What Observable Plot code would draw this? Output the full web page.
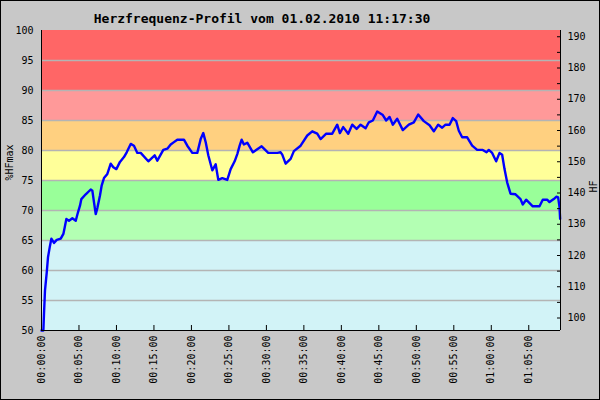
<!DOCTYPE html>
<html><head><meta charset="utf-8">
<script src="https://cdn.jsdelivr.net/npm/d3@7"></script>
<script src="https://cdn.jsdelivr.net/npm/@observablehq/plot@0.6"></script>
<style>
html,body{margin:0;padding:0;background:#c8c8c8;}
#chart svg{display:block;}
</style>
</head><body><div id="chart"></div>
<script>
const chartTitle = "Herzfrequenz-Profil vom 01.02.2010 11:17:30";
const leftLabel = "%HFmax";
const rightLabel = "HF";

// elapsed time (seconds) and heart rate as % of HFmax
const timeSec = [0,15,20,28,42,52,66,79,100,122,154,175,186,199,220,247,274,292,308,319,354,394,407,420,434,447,468,482,500,527,554,575,599,628,660,682,714,740,767,794,855,906,927,975,1007,1034,1060,1087,1140,1167,1207,1247,1274,1295,1314,1335,1367,1394,1415,1447,1487,1514,1546,1567,1586,1602,1620,1647,1692,1727,1762,1815,1887,1914,1927,1954,1994,2020,2074,2127,2167,2207,2234,2279,2327,2367,2388,2415,2455,2487,2522,2554,2594,2620,2652,2687,2732,2759,2786,2812,2847,2892,2940,2980,3015,3060,3106,3140,3175,3207,3234,3266,3292,3319,3340,3367,3407,3447,3487,3532,3562,3580,3607,3639,3666,3687,3706,3727,3754,3794,3834,3852,3879,3932,3986,4012,4047,4066,4100,4122,4135,4146,4151];
const pctHFmax = [50,50,52.8,56.7,59.7,62.2,63.9,65.3,64.6,65.1,65.3,66.1,67.2,68.6,68.3,68.7,68.3,69.7,70.8,71.9,72.7,73.5,73.3,71.4,69.4,70.4,72.5,74.2,75.4,76.1,77.8,77.2,76.9,78.1,78.9,79.7,81.1,80.8,79.6,79.6,78.2,79.2,78.3,80.1,80.3,81.0,81.4,81.8,81.8,80.8,79.6,79.6,81.9,82.9,81.4,79.2,76.7,77.7,75.1,75.4,75.1,76.9,78.2,79.4,80.8,81.8,81.0,81.3,79.7,80.2,80.7,79.6,79.6,79.7,79.3,77.8,78.6,79.9,80.8,82.5,83.2,82.8,81.9,82.8,82.8,84.3,82.9,83.9,82.8,84.3,83.6,84.3,83.7,84.7,85.0,86.5,85.9,85.0,85.6,84.3,85.3,83.4,84.3,84.7,86.0,84.9,84.2,83.2,84.3,83.8,84.3,84.3,85.4,84.9,83.3,82.2,82.2,80.8,80.1,80.1,79.7,80.1,79.6,78.2,79.6,79.3,76.9,74.7,72.8,72.7,71.9,71.0,71.8,70.7,70.7,71.8,71.8,71.4,71.9,72.3,72.2,70.6,68.6];

const hfMax = 192;
const durationSec = 4154;
const zoneBounds = [50, 65, 70, 75, 80, 85, 90, 100];
const zoneColors = ["#d2f3f7", "#b3ffb3", "#99ff99", "#ffff99", "#ffd080", "#ff9999", "#ff6666"];
const pctTicks = [50, 55, 60, 65, 70, 75, 80, 85, 90, 95, 100];
const pctGrid = [55, 60, 65, 70, 75, 80, 85, 90, 95];
const hfTicks = [100, 110, 120, 130, 140, 150, 160, 170, 180, 190];
const hfMinorTicks = [105, 115, 125, 135, 145, 155, 165, 175, 185];
const timeTicks = [0, 300, 600, 900, 1200, 1500, 1800, 2100, 2400, 2700, 3000, 3300, 3600, 3900];

const series = timeSec.map((t, i) => ({t, pct: pctHFmax[i]}));
const zones = zoneColors.map((c, i) => ({lo: zoneBounds[i], hi: zoneBounds[i + 1], color: c}));
const hfToPct = h => h / hfMax * 100;
const fmtTime = s => {
  const h = Math.floor(s / 3600), m = Math.floor((s % 3600) / 60), sec = s % 60;
  return [h, m, sec].map(v => String(v).padStart(2, "0")).join(":");
};

const chart = Plot.plot({
  width: 600,
  height: 400,
  marginLeft: 41,
  marginRight: 40,
  marginTop: 30,
  marginBottom: 70,
  style: {background: "#c8c8c8", fontFamily: "'DejaVu Sans Mono', monospace", fontSize: "10px", color: "#000", outline: "1px solid #000", outlineOffset: "-1px"},
  x: {domain: [0, durationSec]},
  y: {domain: [50, 100]},
  marks: [
    Plot.rect(zones, {x1: () => 0, x2: () => durationSec, y1: "lo", y2: "hi", fill: "color"}),
    Plot.ruleY(pctGrid, {stroke: "#b4b4b4", strokeWidth: 1.5}),
    Plot.line(series, {x: "t", y: "pct", stroke: "#0000ff", strokeWidth: 2.4, curve: "linear"}),
    Plot.ruleX([0, durationSec], {stroke: "#000"}),
    Plot.ruleY([50], {stroke: "#000"}),
    Plot.axisY({anchor: "left", ticks: pctTicks, tickSize: 0, tickPadding: 8, label: null, fontSize: 10}),
    Plot.axisY({anchor: "right", ticks: hfTicks.map(hfToPct), tickSize: 0, tickPadding: 7, tickFormat: d => Math.round(d * hfMax / 100), label: null, fontSize: 10}),
    Plot.axisY({anchor: "right", ticks: hfTicks.concat(hfMinorTicks).map(hfToPct), tickSize: 4, dx: -4, text: null, label: null}),
    Plot.axisX({anchor: "bottom", ticks: timeTicks, tickSize: 0, tickPadding: 5, tickRotate: -90, tickFormat: fmtTime, label: null, fontSize: 10}),
    Plot.axisX({anchor: "bottom", ticks: timeTicks, tickSize: 5, dy: -5, text: null, label: null}),
    Plot.text([chartTitle], {frameAnchor: "top", dx: -39, dy: -17, fontWeight: "bold", fontSize: 13, text: d => d}),
    Plot.text([leftLabel], {frameAnchor: "left", dx: -32, rotate: -90, fontSize: 10, text: d => d}),
    Plot.text([rightLabel], {frameAnchor: "right", dx: 33, rotate: -90, fontSize: 10, text: d => d})
  ]
});
document.getElementById("chart").appendChild(chart);
</script>
</body></html>
